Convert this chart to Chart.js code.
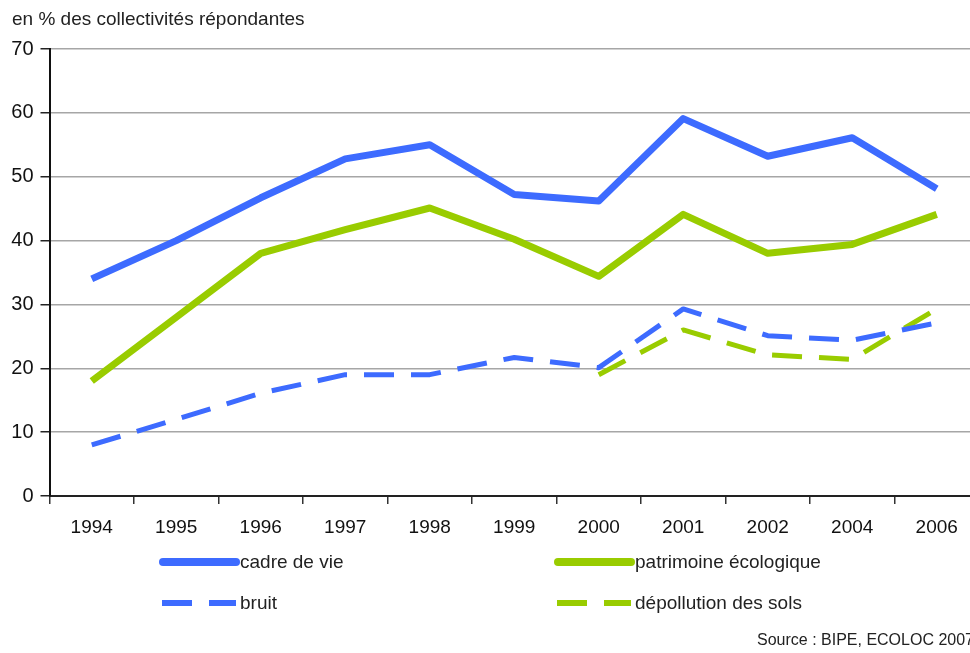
<!DOCTYPE html>
<html>
<head>
<meta charset="utf-8">
<script src="https://cdn.jsdelivr.net/npm/chart.js@4"></script>
<style>
  html, body { margin: 0; padding: 0; background: #fff; overflow: hidden; }
  #wrap { width: 980px; height: 653px; }
</style>
</head>
<body>
<div id="wrap"><canvas id="myChart" width="980" height="653"></canvas></div>
<script>
const years = ['1994', '1995', '1996', '1997', '1998', '1999', '2000', '2001', '2002', '2004', '2006'];
const cadreDeVie = [34, 40, 46.7, 52.8, 55, 47.2, 46.2, 59.1, 53.2, 56.1, 48.1];
const patrimoine = [18, 28, 38, 41.7, 45.1, 40.2, 34.4, 44.1, 38, 39.4, 44.1];
const bruit = [8, 12, 16.1, 19, 19, 21.7, 20.1, 29.3, 25.1, 24.4, 27.1];
const depollution = [null, null, null, null, null, null, 19, 26, 22.1, 21.4, 29.3];
const yTicks = [0, 10, 20, 30, 40, 50, 60, 70];

const BLUE = '#3D6BFF';
const GREEN = '#99CC00';
const FONT = '"Liberation Sans", Arial, sans-serif';

const data = {
  labels: years,
  datasets: [
    { label: 'cadre de vie', data: cadreDeVie, borderColor: BLUE, borderWidth: 7 },
    { label: 'patrimoine écologique', data: patrimoine, borderColor: GREEN, borderWidth: 7 },
    { label: 'bruit', data: bruit, borderColor: BLUE, borderWidth: 5, borderDash: [30, 17] },
    { label: 'dépollution des sols', data: depollution, borderColor: GREEN, borderWidth: 5, borderDash: [30, 17] }
  ].map(ds => Object.assign({
    fill: false,
    tension: 0,
    pointRadius: 0,
    pointHoverRadius: 0,
    borderJoinStyle: 'round',
    borderCapStyle: 'butt',
    spanGaps: false
  }, ds))
};

// two-column legend, title and source, drawn on the canvas
const extras = {
  id: 'extras',
  afterDraw(chart) {
    const ctx = chart.ctx;
    ctx.save();
    ctx.fillStyle = '#222';
    ctx.textBaseline = 'middle';
    ctx.textAlign = 'left';
    ctx.font = '19px ' + FONT;
    ctx.fillText('en % des collectivités répondantes', 12, 20);

    const slots = [[160, 562], [555, 562], [160, 603], [555, 603]];
    chart.data.datasets.forEach((ds, i) => {
      const [x, y] = slots[i];
      ctx.save();
      ctx.strokeStyle = ds.borderColor;
      ctx.lineWidth = ds.borderDash ? 6 : 8;
      ctx.lineCap = ds.borderDash ? 'butt' : 'round';
      ctx.setLineDash(ds.borderDash || []);
      ctx.beginPath();
      ctx.moveTo(x + (ds.borderDash ? 2 : 3), y);
      ctx.lineTo(x + 76, y);
      ctx.stroke();
      ctx.restore();
      ctx.fillStyle = '#222';
      ctx.font = '19px ' + FONT;
      ctx.fillText(ds.label, x + 80, y + 1);
    });

    ctx.textAlign = 'right';
    ctx.font = '16px ' + FONT;
    ctx.fillText('Source : BIPE, ECOLOC 2007', 974, 641);
    ctx.restore();
  }
};

const config = {
  type: 'line',
  data: data,
  options: {
    responsive: false,
    animation: false,
    events: [],
    layout: { padding: { top: 49, right: 1, left: 0, bottom: 0 } },
    plugins: {
      legend: { display: false },
      tooltip: { enabled: false },
      title: { display: false }
    },
    scales: {
      x: {
        offset: true,
        afterFit(scale) { scale.height = 653 - 496; },
        grid: {
          offset: true,
          drawOnChartArea: false,
          drawTicks: true,
          tickLength: 8,
          tickColor: '#333',
          lineWidth: 1.5
        },
        border: { color: '#222', width: 2 },
        ticks: {
          color: '#111',
          font: { family: FONT, size: 19 },
          padding: 12,
          maxRotation: 0,
          autoSkip: false
        }
      },
      y: {
        min: 0,
        max: 70,
        afterFit(scale) { scale.width = 49.5; },
        afterBuildTicks(scale) { scale.ticks = yTicks.map(v => ({ value: v })); },
        grid: {
          color: '#A6A6A6',
          lineWidth: 1.5,
          tickLength: 9,
          tickColor: '#222'
        },
        border: { color: '#111', width: 2 },
        ticks: {
          color: '#111',
          font: { family: FONT, size: 20 },
          padding: 7
        }
      }
    }
  },
  plugins: [extras]
};

const myChart = new Chart(document.getElementById('myChart'), config);
</script>
</body>
</html>
